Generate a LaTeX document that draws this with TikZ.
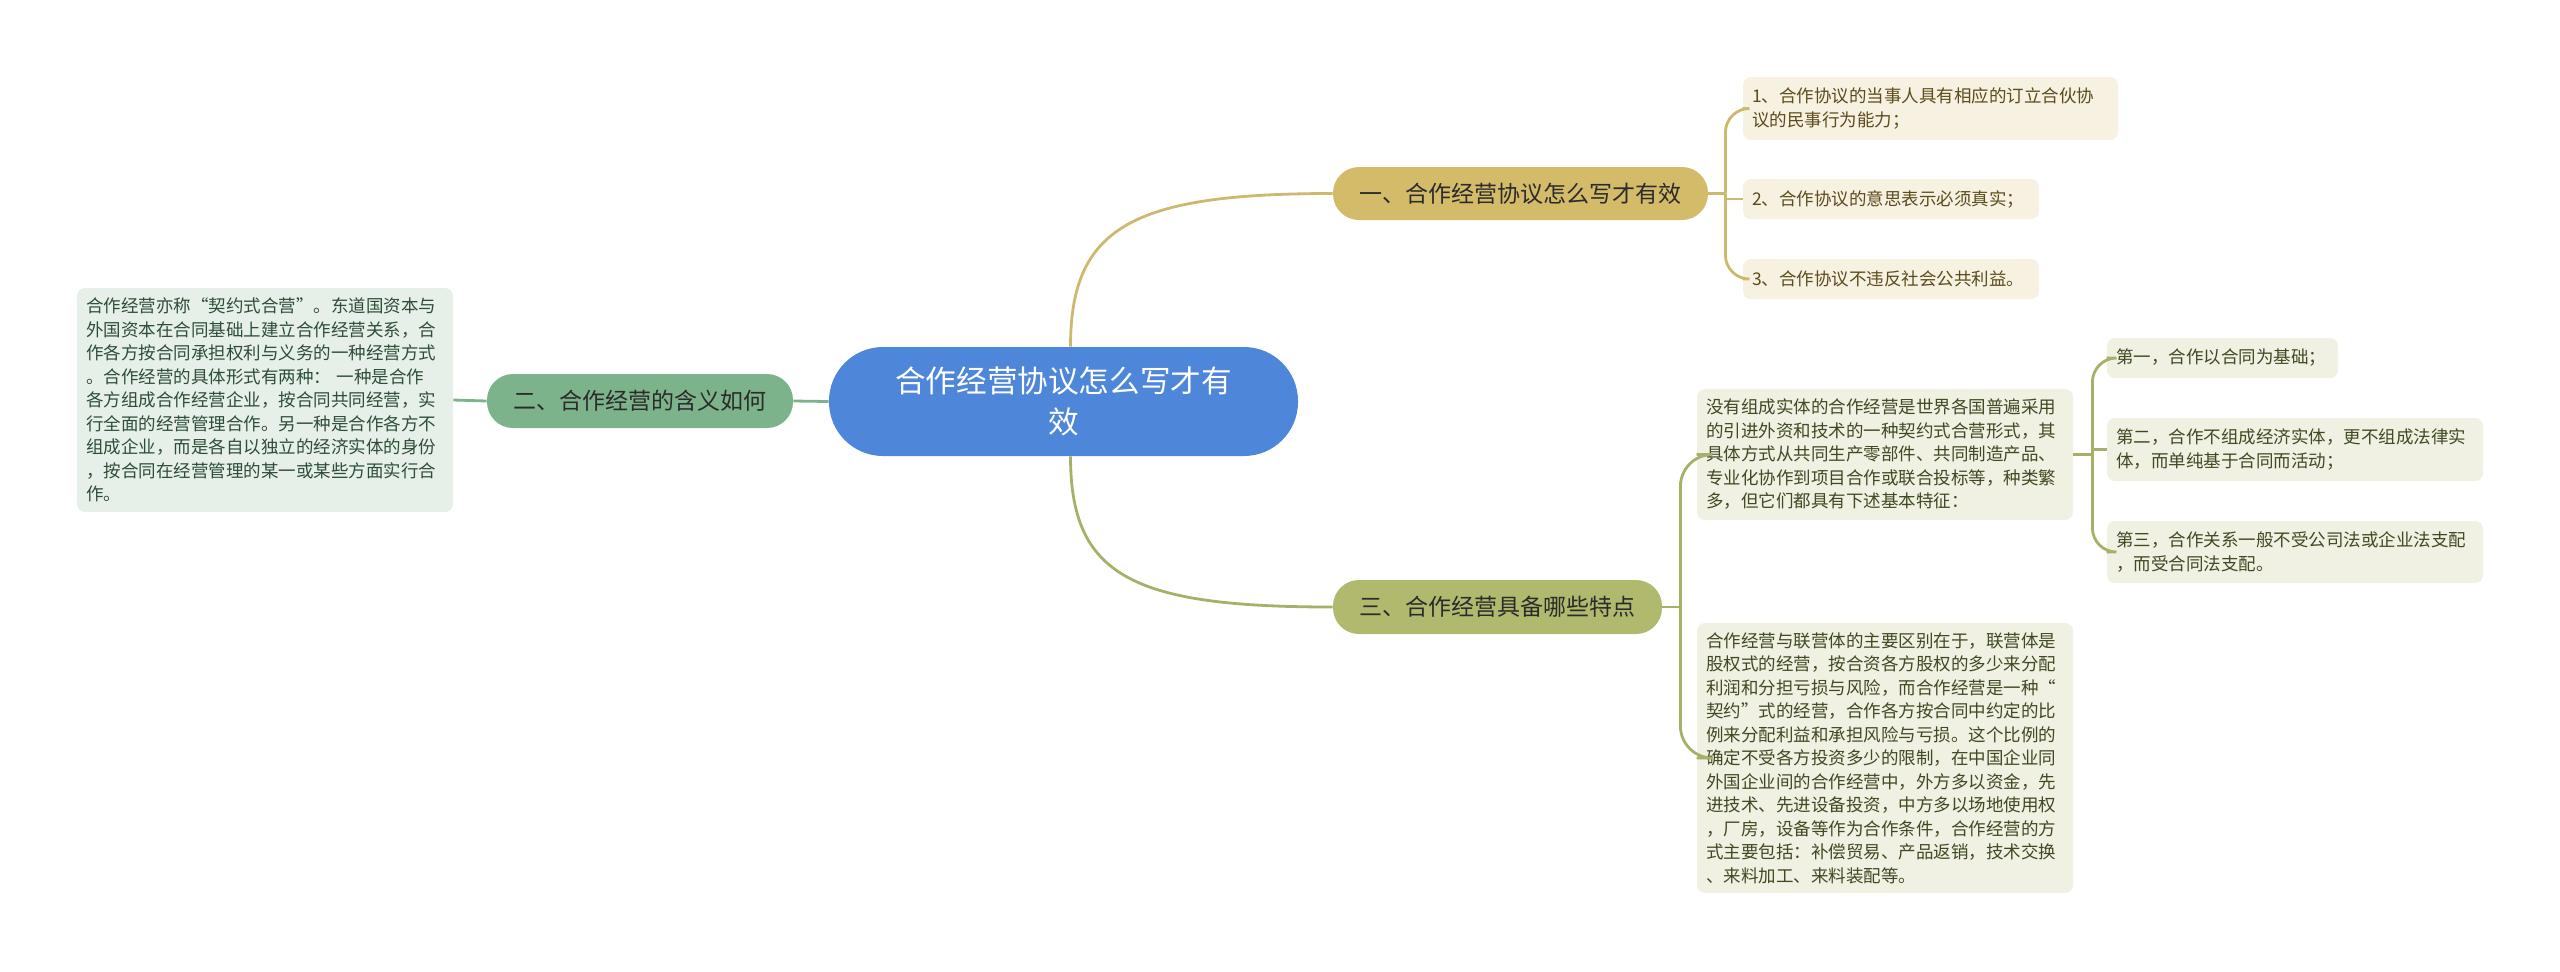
\documentclass[tikz,border=0pt]{standalone}
\usepackage{fontspec}
\setmainfont{Noto Sans CJK SC}
\definecolor{rootfill}{HTML}{4E86DA}
\definecolor{bAfill}{HTML}{D4BB6A}
\definecolor{bBfill}{HTML}{7DB38A}
\definecolor{bCfill}{HTML}{B1B96E}
\definecolor{cA}{HTML}{CDB96E}
\definecolor{cB}{HTML}{7DB38A}
\definecolor{cC}{HTML}{A8B068}
\definecolor{lAfill}{HTML}{F6F1E1}
\definecolor{lBfill}{HTML}{E6F0E9}
\definecolor{lCfill}{HTML}{F0F0E3}
\definecolor{lAtext}{HTML}{5C4B1B}
\definecolor{lBtext}{HTML}{2E4D37}
\definecolor{lCtext}{HTML}{3F4A22}
\definecolor{btext}{HTML}{2B2B2B}
\tikzset{
  leaf/.style={rounded corners=4pt, inner xsep=4.5pt, inner ysep=0pt, align=left,
    font=\fontsize{8.75pt}{11.75pt}\selectfont},
  leafA/.style={leaf, fill=lAfill, text=lAtext},
  leafB/.style={leaf, fill=lBfill, text=lBtext},
  leafC/.style={leaf, fill=lCfill, text=lCtext},
  branch/.style={rounded corners=13pt, inner sep=0pt, align=center, text=btext,
    font=\fontsize{11.5pt}{14pt}\selectfont},
  conA/.style={draw=cA, line width=1.4pt},
  conB/.style={draw=cB, line width=1.4pt},
  conC/.style={draw=cC, line width=1.4pt},
}
\begin{document}
\begin{tikzpicture}[x=0.5pt,y=-0.5pt]
\useasboundingbox (0,0) rectangle (2560,971);
% root
\node[fill=rootfill, rounded corners=27pt, minimum width=234.5pt, minimum height=54.5pt,
  inner sep=0pt, align=center, text=white, font=\fontsize{15.3pt}{20.5pt}\selectfont]
  (root) at (1063.5,401.5) {合作经营协议怎么写才有\\效};
% branches
\node[branch, fill=bAfill, minimum width=187.5pt, minimum height=26.5pt] (b1) at (1520.5,193.5) {一、合作经营协议怎么写才有效};
\node[branch, fill=bBfill, minimum width=153pt, minimum height=27pt] (b2) at (640,401) {二、合作经营的含义如何};
\node[branch, fill=bCfill, minimum width=164.5pt, minimum height=27pt] (b3) at (1497.5,607) {三、合作经营具备哪些特点};
% left leaf
\node[leafB, text width=179pt, minimum height=112pt] (m1) at (265,400) {合作经营亦称“契约式合营”。东道国资本与\\外国资本在合同基础上建立合作经营关系，合\\作各方按合同承担权利与义务的一种经营方式\\。合作经营的具体形式有两种：\ 一种是合作\\各方组成合作经营企业，按合同共同经营，实\\行全面的经营管理合作。另一种是合作各方不\\组成企业，而是各自以独立的经济实体的身份\\，按合同在经营管理的某一或某些方面实行合\\作。};
% branch 1 leaves
\node[leafA, text width=178.5pt, minimum height=31.5pt] (l1) at (1930.5,108.5) {1、合作协议的当事人具有相应的订立合伙协\\议的民事行为能力；};
\node[leafA, text width=139pt, minimum height=20pt] (l2) at (1891,199) {2、合作协议的意思表示必须真实；};
\node[leafA, text width=139pt, minimum height=20pt] (l3) at (1891,279) {3、合作协议不违反社会公共利益。};
% branch 3 leaves
\node[leafC, text width=179pt, minimum height=65.5pt] (t1) at (1885,454.5) {没有组成实体的合作经营是世界各国普遍采用\\的引进外资和技术的一种契约式合营形式，其\\具体方式从共同生产零部件、共同制造产品、\\专业化协作到项目合作或联合投标等，种类繁\\多，但它们都具有下述基本特征：};
\node[leafC, text width=179pt, minimum height=135pt] (t2) at (1885,758) {合作经营与联营体的主要区别在于，联营体是\\股权式的经营，按合资各方股权的多少来分配\\利润和分担亏损与风险，而合作经营是一种“\\契约”式的经营，合作各方按合同中约定的比\\例来分配利益和承担风险与亏损。这个比例的\\确定不受各方投资多少的限制，在中国企业同\\外国企业间的合作经营中，外方多以资金，先\\进技术、先进设备投资，中方多以场地使用权\\，厂房，设备等作为合作条件，合作经营的方\\式主要包括：补偿贸易、产品返销，技术交换\\、来料加工、来料装配等。};
\node[leafC, text width=106.5pt, minimum height=20pt] (f1) at (2222.5,358) {第一，合作以合同为基础；};
\node[leafC, text width=179pt, minimum height=31.5pt] (f2) at (2295,449.5) {第二，合作不组成经济实体，更不组成法律实\\体，而单纯基于合同而活动；};
\node[leafC, text width=179pt, minimum height=31pt] (f3) at (2295,552) {第三，合作关系一般不受公司法或企业法支配\\，而受合同法支配。};
% connectors from root
\draw[conA] ([xshift=3.5pt]root.north) .. controls +(0,-120) and +(-200,0) .. (b1.west);
\draw[conC] ([xshift=3.5pt]root.south) .. controls +(0,120) and +(-200,0) .. (b3.west);
\draw[conB] (root.west) -- (b2.east);
\draw[conB] (b2.west) -- (m1.east);
% branch 1
\draw[conA] (b1.east) -- ++(17,0) coordinate (j1);
\draw[conA, rounded corners=12pt] (j1) |- (l1.west);
\draw[conA, rounded corners=12pt] (j1) |- (l3.west);
\draw[conA] (j1) |- (l2.west);
% branch 3
\draw[conC] (b3.east) -- ++(18,0) coordinate (j3);
\draw[conC, rounded corners=16pt] (j3) |- (t1.west);
\draw[conC, rounded corners=16pt] (j3) |- (t2.west);
% t1 children
\draw[conC] (t1.east) -- ++(19,0) coordinate (j4);
\draw[conC, rounded corners=12pt] (j4) |- (f1.west);
\draw[conC, rounded corners=12pt] (j4) |- (f3.west);
\draw[conC] (j4) |- (f2.west);
\end{tikzpicture}
\end{document}
